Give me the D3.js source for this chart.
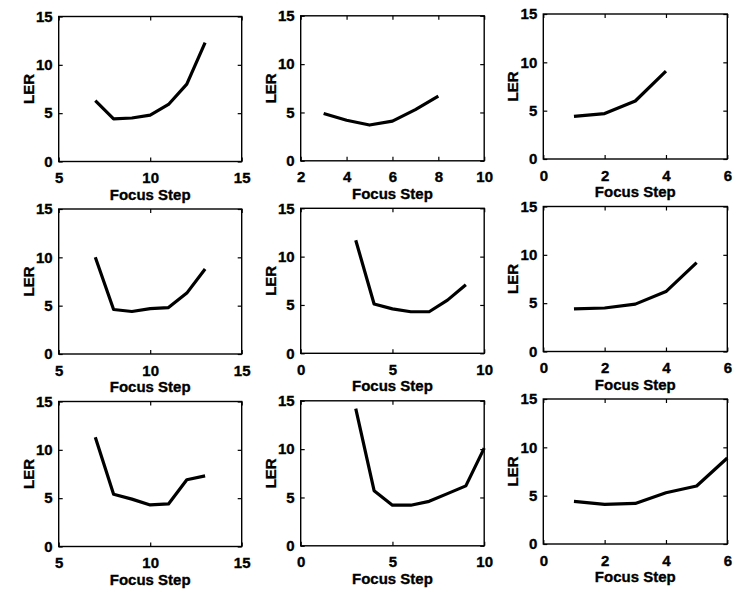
<!DOCTYPE html>
<html>
<head>
<meta charset="utf-8">
<script src="https://cdn.jsdelivr.net/npm/d3@7"></script>
<style>
  body { margin: 0; background: #fff; }
  svg { display: block; }
  text { font-family: "Liberation Sans", Arial, sans-serif; font-weight: bold; fill: #000; stroke: #000; stroke-width: 0.35px; }
</style>
</head>
<body>
<svg id="chart" width="735" height="589"></svg>
<script>
// LER measured at each focus step, one array pair per sub-plot (row by row)
const stepsA = [7, 8, 9, 10, 11, 12, 13];
const lerA   = [6.3, 4.4, 4.5, 4.8, 5.9, 8.0, 12.3];
const stepsB = [3, 4, 5, 6, 7, 8];
const lerB   = [4.9, 4.2, 3.7, 4.1, 5.3, 6.7];
const stepsC = [1, 2, 3, 4];
const lerC   = [4.4, 4.7, 6.0, 9.1];

const stepsD = [7, 8, 9, 10, 11, 12, 13];
const lerD   = [10.0, 4.6, 4.4, 4.7, 4.8, 6.3, 8.8];
const stepsE = [3, 4, 5, 6, 7, 8, 9];
const lerE   = [11.7, 5.1, 4.6, 4.3, 4.3, 5.5, 7.1];
const stepsF = [1, 2, 3, 4, 5];
const lerF   = [4.4, 4.5, 4.9, 6.2, 9.2];

const stepsG = [7, 8, 9, 10, 11, 12, 13];
const lerG   = [11.3, 5.4, 4.9, 4.3, 4.4, 6.9, 7.3];
const stepsH = [3, 4, 5, 6, 7, 8, 9, 10];
const lerH   = [14.2, 5.7, 4.2, 4.2, 4.6, 5.4, 6.2, 10.1];
const stepsI = [1, 2, 3, 4, 5, 6];
const lerI   = [4.4, 4.1, 4.2, 5.3, 6.0, 8.9];

// Axis ranges and tick labels
const xRangeWide = [5, 15],  xTicksWide = [5, 10, 15];
const xRangeMid  = [2, 10],  xTicksMid  = [2, 4, 6, 8, 10];
const xRangeTen  = [0, 10],  xTicksTen  = [0, 5, 10];
const xRangeSix  = [0, 6],   xTicksSix  = [0, 2, 4, 6];
const yRange = [0, 15],      yTicks = [0, 5, 10, 15];

const xLabel = "Focus Step";
const yLabel = "LER";

const panels = [
  { steps: stepsA, ler: lerA, xr: xRangeWide, xt: xTicksWide },
  { steps: stepsB, ler: lerB, xr: xRangeMid,  xt: xTicksMid },
  { steps: stepsC, ler: lerC, xr: xRangeSix,  xt: xTicksSix },
  { steps: stepsD, ler: lerD, xr: xRangeWide, xt: xTicksWide },
  { steps: stepsE, ler: lerE, xr: xRangeTen,  xt: xTicksTen },
  { steps: stepsF, ler: lerF, xr: xRangeSix,  xt: xTicksSix },
  { steps: stepsG, ler: lerG, xr: xRangeWide, xt: xTicksWide },
  { steps: stepsH, ler: lerH, xr: xRangeTen,  xt: xTicksTen },
  { steps: stepsI, ler: lerI, xr: xRangeSix,  xt: xTicksSix },
];

// Grid geometry
const colLeft  = [58.7, 300.7, 543.3];
const colWidth = [183, 183.5, 184];
const rowTop   = [16.5, 209, 401.5];
const colDrop  = [0, -0.7, -2.5];
const boxH = 145;
const tick = 4;
const intFmt = d3.format("d");

const svg = d3.select("#chart");

panels.forEach((p, i) => {
  const r = Math.floor(i / 3), c = i % 3;
  const w = colWidth[c], h = boxH;
  const g = svg.append("g")
    .attr("transform", `translate(${colLeft[c]},${rowTop[r] + colDrop[c]})`);

  const x = d3.scaleLinear().domain(p.xr).range([0, w]);
  const y = d3.scaleLinear().domain(yRange).range([h, 0]);

  // inward ticks on all four sides, labels on bottom and left
  const bottom = g.append("g").attr("transform", `translate(0,${h})`)
    .call(d3.axisBottom(x).tickValues(p.xt).tickFormat(intFmt)
      .tickSizeInner(-tick).tickSizeOuter(0).tickPadding(11));
  const left = g.append("g")
    .call(d3.axisLeft(y).tickValues(yTicks).tickFormat(intFmt)
      .tickSizeInner(-tick).tickSizeOuter(0).tickPadding(6));
  const top = g.append("g")
    .call(d3.axisTop(x).tickValues(p.xt).tickSizeInner(-tick).tickSizeOuter(0).tickFormat(""));
  const right = g.append("g").attr("transform", `translate(${w},0)`)
    .call(d3.axisRight(y).tickValues(yTicks).tickSizeInner(-tick).tickSizeOuter(0).tickFormat(""));

  [bottom, left, top, right].forEach(a => {
    a.select(".domain").remove();
    a.selectAll("line").attr("stroke", "#000").attr("stroke-width", 1.2);
    a.selectAll("text").attr("font-size", 15).attr("fill", "#000")
      .style("font-family", '"Liberation Sans", Arial, sans-serif').style("font-weight", "bold");
  });

  g.append("rect")
    .attr("width", w).attr("height", h)
    .attr("fill", "none").attr("stroke", "#000").attr("stroke-width", 1.4);

  g.append("path")
    .datum(p.steps.map((s, k) => [s, p.ler[k]]))
    .attr("fill", "none")
    .attr("stroke", "#000")
    .attr("stroke-width", 3.2)
    .attr("stroke-linejoin", "round")
    .attr("d", d3.line().x(d => x(d[0])).y(d => y(d[1])));

  g.append("text")
    .attr("x", w / 2).attr("y", h + 38)
    .attr("text-anchor", "middle").attr("font-size", 15)
    .text(xLabel);

  g.append("text")
    .attr("transform", `translate(-25,${h / 2}) rotate(-90)`)
    .attr("text-anchor", "middle").attr("font-size", 15)
    .text(yLabel);
});
</script>
</body>
</html>
